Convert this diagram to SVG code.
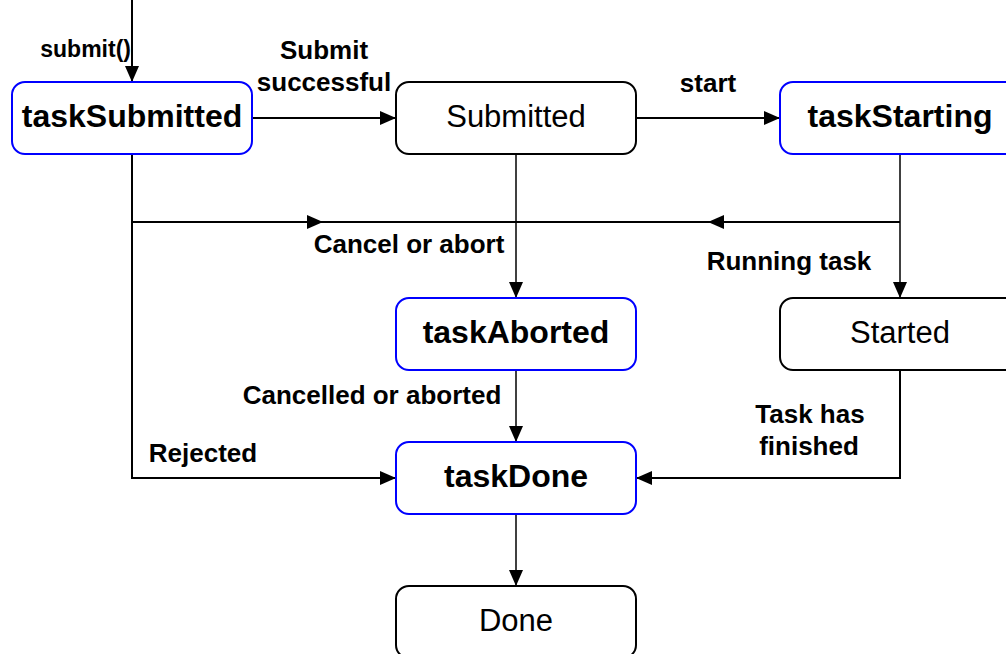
<svg xmlns="http://www.w3.org/2000/svg" width="1006" height="654" viewBox="0 0 1006 654">
<style>
.box{fill:#fff;stroke:#000;stroke-width:2}
.blue{stroke:#0000ff}
.bt{font-family:"Liberation Sans",Arial,sans-serif;font-weight:bold;font-size:32px;text-anchor:middle;fill:#000}
.nt{font-family:"Liberation Sans",Arial,sans-serif;font-size:31px;text-anchor:middle;fill:#000}
.lb{font-family:"Liberation Sans",Arial,sans-serif;font-weight:bold;font-size:26px;text-anchor:middle;fill:#000}
.c{fill:none;stroke:#000;stroke-width:2}
.t{stroke-width:1.5}
</style>
<defs>
<marker id="ah" markerUnits="userSpaceOnUse" markerWidth="16" markerHeight="14" refX="16" refY="7" orient="auto" viewBox="0 0 16 14">
<path d="M0,0 L16,7 L0,14 z" fill="#000"/>
</marker>
</defs>
<rect width="1006" height="654" fill="#fff"/>
<g id="connectors">
<path class="c" d="M132,0 V82" marker-end="url(#ah)"/>
<path class="c" d="M252,118 H396" marker-end="url(#ah)"/>
<path class="c" d="M636,118 H780" marker-end="url(#ah)"/>
<path class="c" d="M132,154 V478 H396" marker-end="url(#ah)"/>
<path class="c" d="M132,222 H323" marker-end="url(#ah)"/>
<path class="c" d="M323,222 H708"/>
<path class="c" d="M900,222 H708" marker-end="url(#ah)"/>
<path class="c t" d="M516,154 V298" marker-end="url(#ah)"/>
<path class="c t" d="M900,154 V298" marker-end="url(#ah)"/>
<path class="c t" d="M516,370 V442" marker-end="url(#ah)"/>
<path class="c" d="M900,370 V478 H636" marker-end="url(#ah)"/>
<path class="c t" d="M516,514 V586" marker-end="url(#ah)"/>
<text class="lb" x="131" y="57" style="text-anchor:end;font-size:23px">submit()</text>
<text class="lb" x="324" y="59">Submit</text>
<text class="lb" x="324" y="91">successful</text>
<text class="lb" x="708" y="92">start</text>
<text class="lb" x="409" y="253">Cancel or abort</text>
<text class="lb" x="789" y="270">Running task</text>
<text class="lb" x="372" y="404">Cancelled or aborted</text>
<text class="lb" x="203" y="462">Rejected</text>
<text class="lb" x="810" y="423">Task has</text>
<text class="lb" x="809" y="455">finished</text>
</g>
<g id="taskSubmitted"><rect class="box blue" x="12" y="82" width="240" height="72" rx="13"/><text class="bt" x="132" y="127">taskSubmitted</text></g>
<g id="Submitted"><rect class="box" x="396" y="82" width="240" height="72" rx="13"/><text class="nt" x="516" y="127">Submitted</text></g>
<g id="taskStarting"><rect class="box blue" x="780" y="82" width="240" height="72" rx="13"/><text class="bt" x="900" y="127">taskStarting</text></g>
<g id="taskAborted"><rect class="box blue" x="396" y="298" width="240" height="72" rx="13"/><text class="bt" x="516" y="343">taskAborted</text></g>
<g id="Started"><rect class="box" x="780" y="298" width="240" height="72" rx="13"/><text class="nt" x="900" y="343">Started</text></g>
<g id="taskDone"><rect class="box blue" x="396" y="442" width="240" height="72" rx="13"/><text class="bt" x="516" y="487">taskDone</text></g>
<g id="Done"><rect class="box" x="396" y="586" width="240" height="72" rx="13"/><text class="nt" x="516" y="631">Done</text></g>
</svg>
